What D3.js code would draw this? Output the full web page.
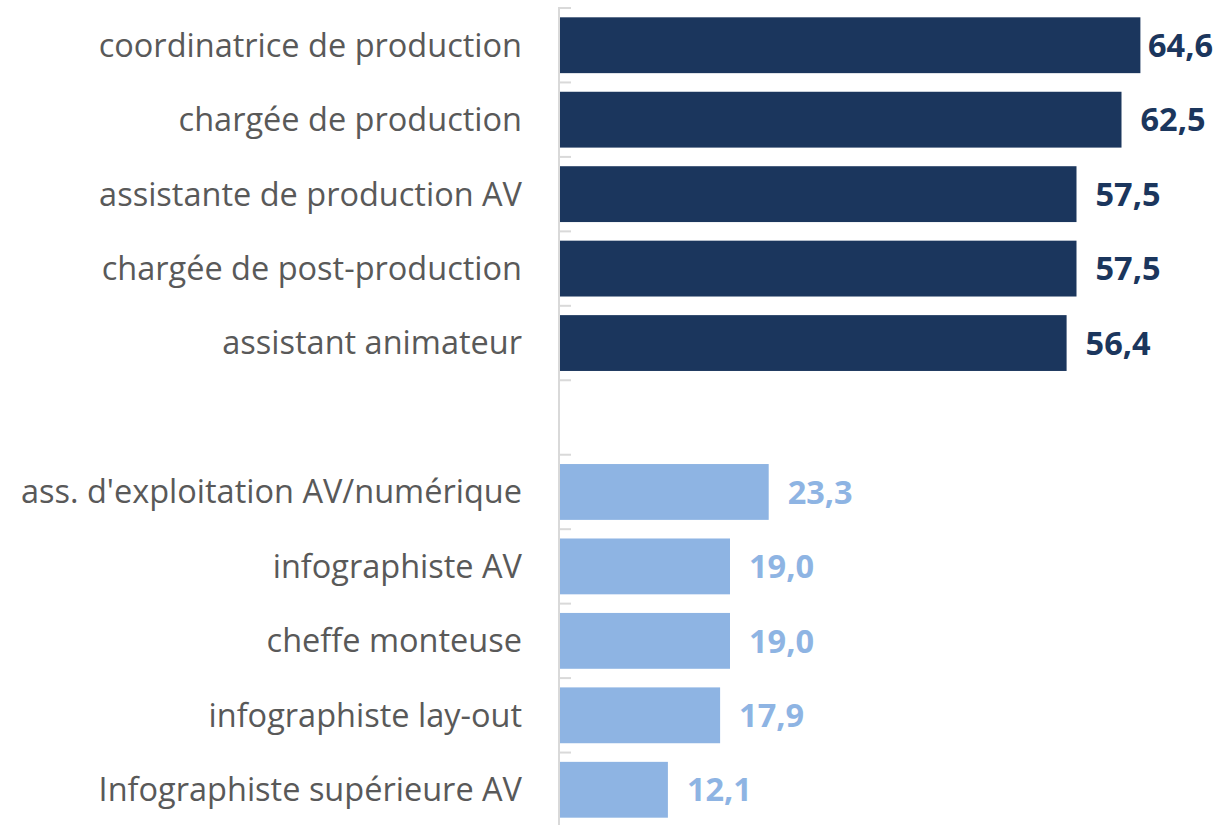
<!DOCTYPE html>
<html>
<head>
<meta charset="utf-8">
<script src="https://cdn.jsdelivr.net/npm/d3@7"></script>
<style>
  html,body{margin:0;padding:0;background:#fff;}
  svg{display:block;}
  .cat-label{font-family:"Open Sans",sans-serif;font-size:32.5px;fill:#595959;}
  .value-label{font-family:"Open Sans",sans-serif;font-size:32.5px;font-weight:700;}
</style>
</head>
<body>
<div id="chart"></div>
<script>
var topCategories=["coordinatrice de production","chargée de production","assistante de production AV","chargée de post-production","assistant animateur"];
var topValues=[64.6,62.5,57.5,57.5,56.4];
var bottomCategories=["ass. d'exploitation AV/numérique","infographiste AV","cheffe monteuse","infographiste lay-out","Infographiste supérieure AV"];
var bottomValues=[23.3,19.0,19.0,17.9,12.1];
var xDomain=[0,70];

var colTop="#1b365d", colBottom="#8eb4e3";

var rows=topCategories.map(function(c,i){return {key:"t"+i,cat:c,value:topValues[i],color:colTop};})
    .concat([{key:"gap",cat:"",value:null,color:null}])
    .concat(bottomCategories.map(function(c,i){return {key:"b"+i,cat:c,value:bottomValues[i],color:colBottom};}));

var W=1216,H=825;
var svg=d3.select("#chart").append("svg").attr("width",W).attr("height",H);

var x=d3.scaleLinear().domain(xDomain).range([559,1189]);
var y=d3.scaleBand().domain(rows.map(function(d){return d.key;})).range([8,827]).paddingInner(0.25).paddingOuter(0.125);

// axis line with ticks at category boundaries
svg.append("line").attr("x1",559).attr("x2",559).attr("y1",8).attr("y2",H)
    .attr("stroke","#d9d9d9").attr("stroke-width",2);
var bounds=rows.map(function(d){return y(d.key)-y.step()*y.paddingInner()/2;});
svg.selectAll("line.tick").data(bounds).enter().append("line").attr("class","tick")
    .attr("x1",558).attr("x2",571).attr("y1",function(d){return d;}).attr("y2",function(d){return d;})
    .attr("stroke","#d9d9d9").attr("stroke-width",2);

var data=rows.filter(function(d){return d.value!=null;});

svg.selectAll("rect.bar").data(data).enter().append("rect").attr("class","bar")
    .attr("x",x(0)+1).attr("y",function(d){return y(d.key);})
    .attr("width",function(d){return x(d.value)-x(0)-1;}).attr("height",y.bandwidth())
    .attr("fill",function(d){return d.color;});

svg.selectAll("text.cat-label").data(data).enter().append("text").attr("class","cat-label")
    .attr("x",522).attr("y",function(d){return y(d.key)+y.bandwidth()/2;})
    .attr("dy","0.35em").attr("text-anchor","end").text(function(d){return d.cat;});

var fmt=function(v){return d3.format(".1f")(v).replace(".",",");};
svg.selectAll("text.value-label").data(data).enter().append("text").attr("class","value-label")
    .attr("y",function(d){return y(d.key)+y.bandwidth()/2;}).attr("dy","0.36em")
    .attr("fill",function(d){return d.color;}).text(function(d){return fmt(d.value);})
    .attr("x",function(d){
        var w=this.getComputedTextLength(), px=x(d.value)+19;
        return Math.min(px,1213-w);
    });
</script>
</body>
</html>
